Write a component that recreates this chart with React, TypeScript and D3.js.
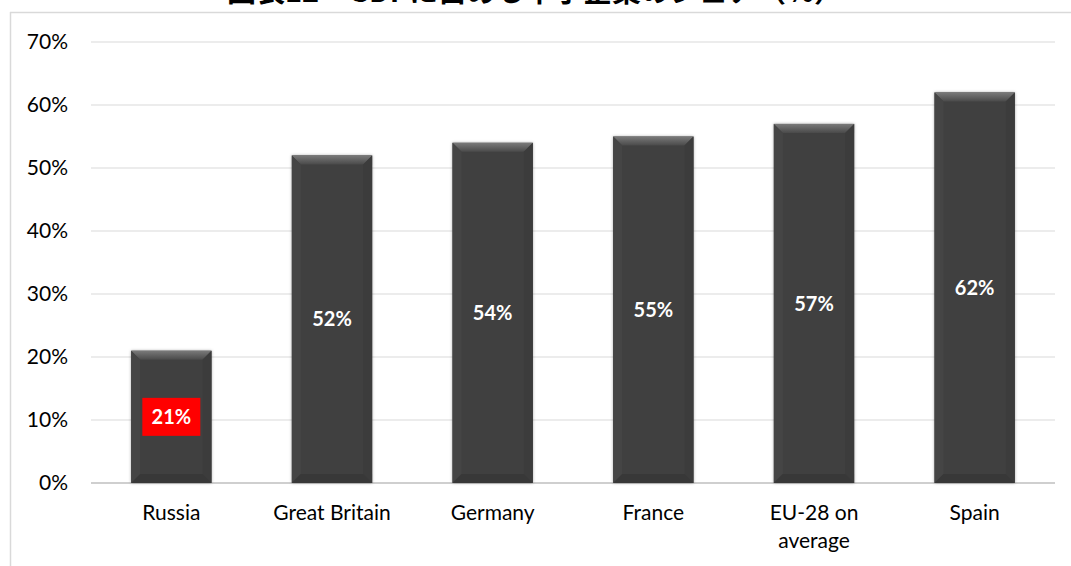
import React from "react";
import * as d3 from "d3";

const categories = ["Russia", "Great Britain", "Germany", "France", "EU-28 on average", "Spain"];
const categoryLines = [["Russia"], ["Great Britain"], ["Germany"], ["France"], ["EU-28 on", "average"], ["Spain"]];
const values = [21, 52, 54, 55, 57, 62];
const yTicks = [0, 10, 20, 30, 40, 50, 60, 70];
const title = "図表12　GDPに占める中小企業のシェア（%）";

const W = 1071;
const H = 566;
const left = 91;
const right = 1055;
const top = 42;
const bottom = 483;

export default function App() {
  const x = d3.scaleBand<string>().domain(categories).range([left, right]).paddingInner(0.5).paddingOuter(0.25);
  const y = d3.scaleLinear().domain([0, 70]).range([bottom, top]);
  const bw = x.bandwidth();
  const inset = 9;
  const font = "Lato, 'Open Sans', sans-serif";

  return (
    <svg width={W} height={H} style={{ position: "absolute", left: 0, top: 0, background: "#fff" }}>
      <defs>
        <linearGradient id="topBevel" x1="0" y1="0" x2="0" y2="1">
          <stop offset="0" stopColor="#7a7a7a" />
          <stop offset="1" stopColor="#4a4a4a" />
        </linearGradient>
        <filter id="shadow" x="-20%" y="-20%" width="140%" height="140%">
          <feDropShadow dx="0" dy="0" stdDeviation="1.5" floodColor="#000" floodOpacity="0.35" />
        </filter>
      </defs>
      <rect x={0} y={0} width={W} height={H} fill="#fff" />
      <text x={535} y={2} textAnchor="middle" fontFamily="'Noto Sans CJK JP', sans-serif" fontWeight="bold" fontSize={29} fill="#000">
        {title}
      </text>
      <line x1={10} y1={12.5} x2={W} y2={12.5} stroke="#d9d9d9" strokeWidth={1.5} />
      <line x1={10.5} y1={12} x2={10.5} y2={H} stroke="#d9d9d9" strokeWidth={1.5} />

      {yTicks.map((t) => (
        <g key={t}>
          <line x1={left} x2={right} y1={y(t)} y2={y(t)} stroke={t === 0 ? "#bfbfbf" : "#d9d9d9"} strokeWidth={t === 0 ? 1.5 : 1} />
          <text x={68} y={y(t)} dy="0.35em" textAnchor="end" fontFamily={font} fontSize={21} fill="#000">
            {t}%
          </text>
        </g>
      ))}

      {categories.map((c, i) => {
        const x0 = x(c)!;
        const x1 = x0 + bw;
        const y0 = y(values[i]);
        const y1 = y(0);
        const ins = Math.min(inset, (y1 - y0) / 2);
        return (
          <g key={c}>
            <rect x={x0} y={y0} width={bw} height={y1 - y0} fill="#404040" filter="url(#shadow)" />
            <polygon points={`${x0},${y0} ${x1},${y0} ${x1 - ins},${y0 + ins} ${x0 + ins},${y0 + ins}`} fill="url(#topBevel)" />
            <polygon points={`${x0},${y0} ${x0 + ins},${y0 + ins} ${x0 + ins},${y1 - ins} ${x0},${y1}`} fill="#454545" />
            <polygon points={`${x1},${y0} ${x1 - ins},${y0 + ins} ${x1 - ins},${y1 - ins} ${x1},${y1}`} fill="#3c3c3c" />
            <polygon points={`${x0},${y1} ${x0 + ins},${y1 - ins} ${x1 - ins},${y1 - ins} ${x1},${y1}`} fill="#383838" />
            {i === 0 && (
              <rect x={x0 + bw / 2 - 29} y={(y0 + y1) / 2 - 19} width={58} height={38} fill="#ff0000" />
            )}
            <text x={x0 + bw / 2} y={(y0 + y1) / 2} dy="0.36em" textAnchor="middle" fontFamily={font} fontWeight="bold" fontSize={20} fill="#fff">
              {values[i]}%
            </text>
            {categoryLines[i].map((line, j) => (
              <text key={j} x={x0 + bw / 2} y={520 + j * 28} textAnchor="middle" fontFamily={font} fontSize={21} fill="#000">
                {line}
              </text>
            ))}
          </g>
        );
      })}
    </svg>
  );
}
